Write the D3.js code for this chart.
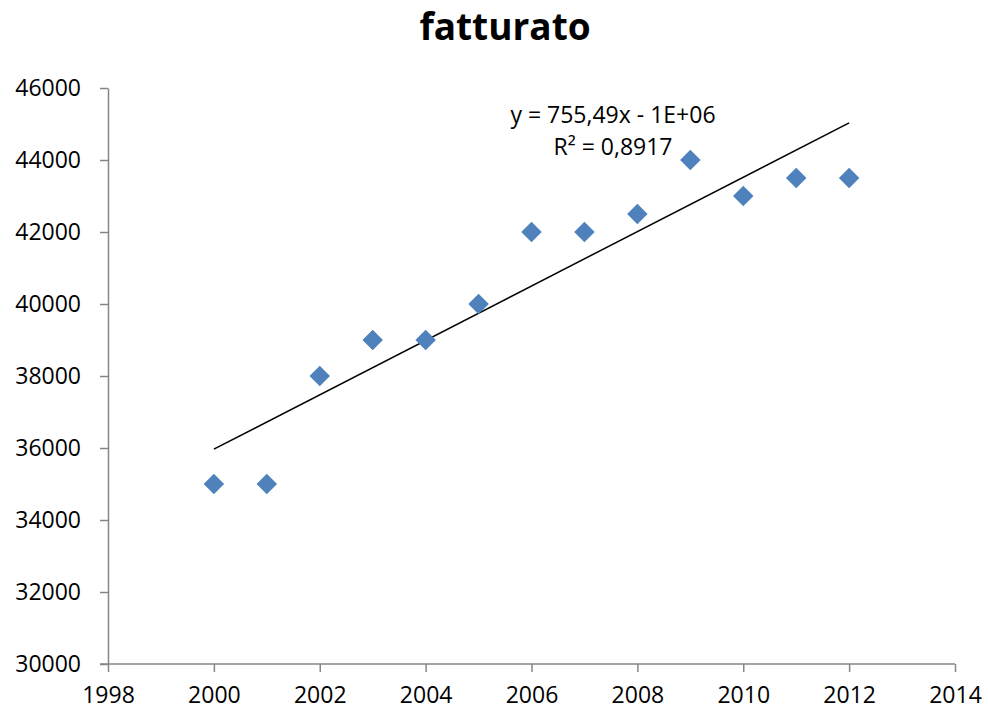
<!DOCTYPE html>
<html>
<head>
<meta charset="utf-8">
<script src="https://cdn.jsdelivr.net/npm/d3@7"></script>
<style>
  html, body { margin: 0; padding: 0; background: #fff; }
  svg { display: block; font-family: "Open Sans", "Liberation Sans", sans-serif; }
</style>
</head>
<body>
<svg id="chart" width="988" height="712"></svg>
<script>
// Annual revenue series
const years = [2000, 2001, 2002, 2003, 2004, 2005, 2006, 2007, 2008, 2009, 2010, 2011, 2012];
const fatturato = [35000, 35000, 38000, 39000, 39000, 40000, 42000, 42000, 42500, 44000, 43000, 43500, 43500];
const xTicks = [1998, 2000, 2002, 2004, 2006, 2008, 2010, 2012, 2014];
const yTicks = [30000, 32000, 34000, 36000, 38000, 40000, 42000, 44000, 46000];
const title = "fatturato";

const svg = d3.select("#chart");
const margin = { left: 108, right: 33, top: 88, bottom: 48 };
const W = 988, H = 712;
const fontFamily = '"Open Sans", "Liberation Sans", sans-serif';

const x = d3.scaleLinear().domain([1998, 2014]).range([margin.left, W - margin.right]);
const y = d3.scaleLinear().domain([30000, 46000]).range([H - margin.bottom, margin.top]);

// Linear least-squares trend line
const n = years.length;
const mx = d3.mean(years), my = d3.mean(fatturato);
let sxy = 0, sxx = 0, syy = 0;
years.forEach((xv, i) => {
  sxy += (xv - mx) * (fatturato[i] - my);
  sxx += (xv - mx) ** 2;
  syy += (fatturato[i] - my) ** 2;
});
const slope = sxy / sxx;
const intercept = my - slope * mx;
const r2 = (sxy * sxy) / (sxx * syy);

const axisColor = "#868686";

// Axes
const xAxis = svg.append("g")
  .attr("transform", `translate(0,${y(30000)})`)
  .call(d3.axisBottom(x).tickValues(xTicks).tickFormat(d3.format("d")).tickSize(8).tickSizeOuter(0).tickPadding(15));
const yAxis = svg.append("g")
  .attr("transform", `translate(${x(1998)},0)`)
  .call(d3.axisLeft(y).tickValues(yTicks).tickFormat(d3.format("d")).tickSize(8).tickSizeOuter(0).tickPadding(19));

[xAxis, yAxis].forEach(g => {
  g.attr("font-family", fontFamily).attr("font-size", 23);
  g.select(".domain").attr("stroke", axisColor).attr("stroke-width", 1.5);
  g.selectAll(".tick line").attr("stroke", axisColor).attr("stroke-width", 1.5);
  g.selectAll(".tick text").attr("fill", "#000");
});
// Extend the horizontal axis to meet the left tick
xAxis.select(".domain").attr("d", `M${x(1998) - 8},0H${x(2014)}`);

// Trend line
svg.append("line")
  .attr("x1", x(years[0])).attr("y1", y(slope * years[0] + intercept))
  .attr("x2", x(years[n - 1])).attr("y2", y(slope * years[n - 1] + intercept))
  .attr("stroke", "#000").attr("stroke-width", 1.5);

// Diamond markers
const diamond = d3.symbol().type(d3.symbolSquare).size(210);
svg.append("g").selectAll("path")
  .data(years.map((yr, i) => ({ yr, v: fatturato[i] })))
  .join("path")
  .attr("d", diamond)
  .attr("transform", d => `translate(${x(d.yr)},${y(d.v)}) rotate(45)`)
  .attr("fill", "#4F81BD");

// Trend equation label
const fmtIt = v => v.toFixed(2).replace(".", ",");
const eq = svg.append("text")
  .attr("text-anchor", "middle")
  .style("font-size", "23px").attr("fill", "#000");
eq.append("tspan").attr("x", 613).attr("y", 123)
  .text(`y = ${fmtIt(slope)}x - 1E+06`);
eq.append("tspan").attr("x", 613).attr("y", 155)
  .text(`R² = ${r2.toFixed(4).replace(".", ",")}`);

// Title
svg.append("text")
  .attr("x", 505).attr("y", 40)
  .attr("text-anchor", "middle")
  .style("font-size", "37px").style("font-weight", "bold")
  .text(title);
</script>
</body>
</html>
